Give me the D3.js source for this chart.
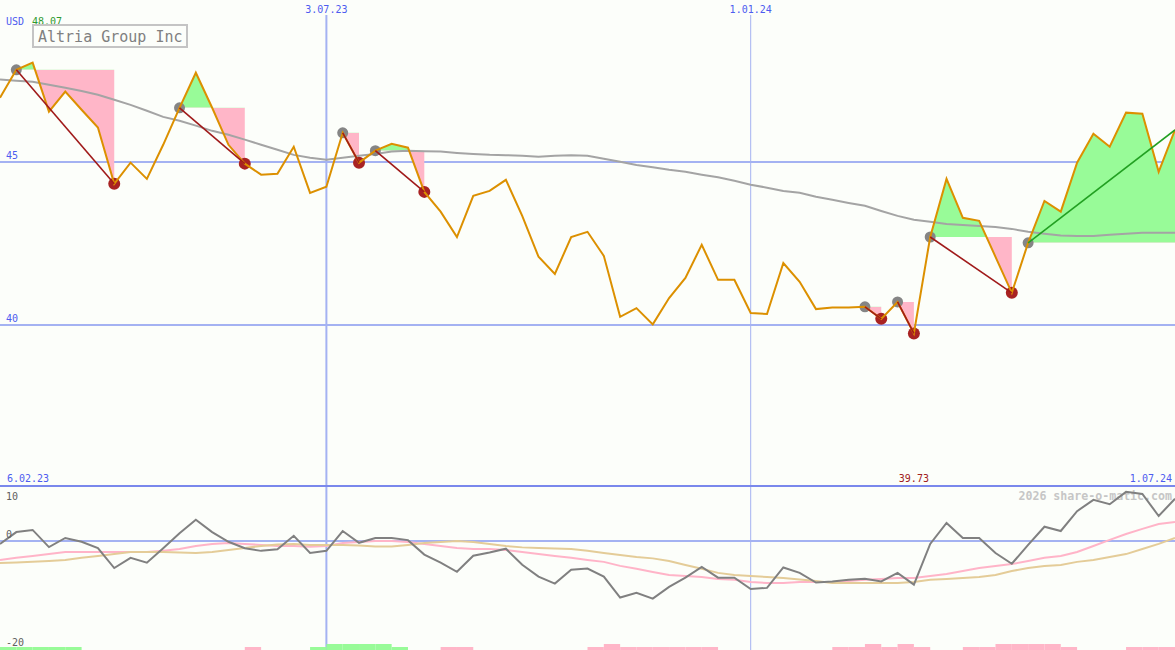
<!DOCTYPE html>
<html><head><meta charset="utf-8">
<script src="https://cdn.jsdelivr.net/npm/d3@7"></script>
<style>html,body{margin:0;padding:0;background:#fcfefa;overflow:hidden}</style>
</head><body>
<svg id="c" width="1175" height="650"></svg>
<script>
// ---------- data ----------
const startDate = new Date(2023, 1, 13);
const endDate = new Date(2024, 6, 1);
const title = "Altria Group Inc";
const currency = "USD";
const maxLabel = "48.07";
const minLabel = "39.73";
const startLabel = "6.02.23";
const endLabel = "1.07.24";
const watermark = "2026 share-o-matic.com";

const price = [46.99, 47.85, 48.07, 46.56, 47.18, 46.62, 46.07, 44.34, 44.99, 44.49,
  45.54, 46.68, 47.76, 46.68, 45.54, 44.96, 44.62, 44.65, 45.48, 44.06,
  44.25, 45.91, 44.99, 45.36, 45.57, 45.45, 44.09, 43.48, 42.70, 43.97,
  44.12, 44.46, 43.35, 42.09, 41.56, 42.70, 42.86, 42.12, 40.24, 40.51,
  40.01, 40.82, 41.44, 42.46, 41.38, 41.38, 40.36, 40.33, 41.90, 41.32,
  40.48, 40.53, 40.53, 40.55, 40.18, 40.70, 39.73, 42.70, 44.49, 43.29,
  43.20, 42.09, 40.98, 42.52, 43.81, 43.48, 44.99, 45.88, 45.48, 46.53,
  46.50, 44.71, 46.00];

const movingAvg = [47.55, 47.51, 47.48, 47.39, 47.30, 47.20, 47.08, 46.93, 46.77, 46.59,
  46.40, 46.28, 46.13, 45.97, 45.85, 45.70, 45.54, 45.39, 45.23, 45.14,
  45.08, 45.14, 45.20, 45.26, 45.33, 45.36, 45.34, 45.33, 45.29, 45.26,
  45.23, 45.22, 45.20, 45.17, 45.20, 45.22, 45.20, 45.11, 45.02, 44.92,
  44.85, 44.77, 44.71, 44.62, 44.54, 44.43, 44.31, 44.22, 44.12, 44.06,
  43.94, 43.85, 43.75, 43.66, 43.50, 43.35, 43.23, 43.17, 43.10, 43.07,
  43.04, 43.01, 42.95, 42.86, 42.80, 42.75, 42.73, 42.73, 42.77, 42.80,
  42.83, 42.83, 42.83];

const osc = [-0.6, 1.6, 2.0, -1.2, 0.5, -0.2, -1.4, -5.1, -3.2, -4.1,
  -1.4, 1.4, 3.9, 1.6, -0.2, -1.4, -1.9, -1.6, 0.9, -2.3,
  -1.9, 1.8, -0.4, 0.5, 0.5, 0.1, -2.6, -4.1, -5.8, -2.8,
  -2.2, -1.5, -4.5, -6.7, -8.0, -5.4, -5.2, -6.7, -10.6, -9.7,
  -10.8, -8.6, -6.9, -4.9, -6.9, -6.9, -9.0, -8.8, -5.0, -6.0,
  -7.8, -7.6, -7.3, -7.1, -7.6, -6.0, -8.2, -0.6, 3.3, 0.5,
  0.5, -2.3, -4.3, -0.8, 2.6, 1.8, 5.5, 7.6, 6.8, 9.1,
  8.7, 4.6, 7.8];

const oscPink = [-3.6, -3.2, -2.85, -2.5, -2.1, -2.1, -2.1, -2.1, -2.1, -2.1,
  -1.9, -1.55, -1.0, -0.6, -0.45, -0.6, -0.8, -1.0, -1.0, -1.15,
  -1.0, -0.45, -0.25, -0.05, -0.05, -0.25, -0.6, -1.0, -1.35, -1.55,
  -1.55, -1.75, -2.1, -2.5, -2.85, -3.2, -3.6, -3.95, -4.7, -5.25,
  -5.85, -6.4, -6.6, -6.75, -7.15, -7.3, -7.7, -7.9, -7.9, -7.7,
  -7.7, -7.7, -7.5, -7.3, -7.15, -6.95, -6.95, -6.6, -6.2, -5.65,
  -5.1, -4.7, -4.35, -3.8, -3.2, -2.85, -2.1, -1.0, 0.15, 1.25,
  2.2, 3.1, 3.5];

const oscTan = [-4.15, -4.05, -3.95, -3.8, -3.6, -3.2, -2.85, -2.5, -2.1, -2.1,
  -2.1, -2.2, -2.3, -2.1, -1.75, -1.35, -1.0, -0.7, -0.6, -0.8,
  -0.8, -0.8, -0.9, -1.1, -1.1, -0.8, -0.45, -0.25, -0.05, -0.25,
  -0.6, -1.0, -1.25, -1.35, -1.45, -1.55, -1.9, -2.3, -2.65, -3.05,
  -3.3, -3.8, -4.55, -5.25, -6.0, -6.4, -6.6, -6.75, -6.95, -7.25,
  -7.5, -7.9, -7.9, -7.9, -7.9, -7.9, -7.7, -7.3, -7.15, -6.95,
  -6.75, -6.4, -5.65, -5.1, -4.7, -4.55, -3.95, -3.6, -3.05, -2.5,
  -1.55, -0.6, 0.5];

// signal bars at the bottom: 1/2 green (small/tall), -1/-2 pink
const signalBars = [1, 1, 1, 1, 1, 0, 0, 0, 0, 0,
  0, 0, 0, 0, 0, -1, 0, 0, 0, 1,
  2, 2, 2, 2, 1, 0, 0, -1, -1, 0,
  0, 0, 0, 0, 0, 0, -1, -2, -1, -1,
  -1, -1, -1, -1, 0, 0, 0, 0, 0, 0,
  0, -1, -1, -2, -1, -2, -1, 0, 0, -1,
  -1, -2, -2, -2, -2, -1, 0, 0, 0, -1,
  -1, -1, 0];

// trend signals (week indexes)
const sigStart = [1, 11, 21, 23, 53, 55, 57, 63];
const sigEnd = [7, 15, 22, 26, 54, 56, 62, 72];
const sigOpen = [false, false, false, false, false, false, false, true];

const priceTicks = [45, 40];
const oscTicks = [10, 0, -20];
const dateTicks = [new Date(2023, 6, 3), new Date(2024, 0, 1)];
const dateTickLabels = ["3.07.23", "1.01.24"];
const dateTickWidths = [2, 1];

// ---------- drawing ----------
const W = 1175, H = 650;
const FONT = "DejaVu Sans Mono";
const dates = price.map((_, i) => d3.timeDay.offset(startDate, 7 * i));
const x = d3.scaleTime().domain([startDate, endDate]).range([0, W]);
const y = d3.scaleLinear().domain([35, 50]).range([487, 0]);
const y2 = d3.scaleLinear().domain([-20, 10]).range([648, 487]);

const svg = d3.select("#c");
svg.append("rect").attr("width", W).attr("height", H).attr("fill", "#fcfefa");
const defs = svg.append("defs");

const grid = "#a4b2f2";
// horizontal price grid
svg.selectAll(".pg").data(priceTicks).enter().append("line")
  .attr("x1", 0).attr("x2", W).attr("y1", d => Math.round(y(d))).attr("y2", d => Math.round(y(d)))
  .attr("stroke", grid).attr("stroke-width", 2);
// oscillator zero line
svg.append("line").attr("x1", 0).attr("x2", W).attr("y1", Math.round(y2(0))).attr("y2", Math.round(y2(0)))
  .attr("stroke", grid).attr("stroke-width", 2);
// vertical date lines
dateTicks.forEach((d, k) => {
  svg.append("line").attr("x1", x(d)).attr("x2", x(d)).attr("y1", 15).attr("y2", H)
    .attr("stroke", grid).attr("stroke-width", dateTickWidths[k]);
});

// signal fills
sigStart.forEach((s, k) => {
  const e = sigEnd[k];
  const ref = price[s];
  const idx = d3.range(s, e + 1);
  const area = d3.area().x(i => x(dates[i])).y0(y(ref)).y1(i => y(price[i]));
  const ca = "ca" + k, cb = "cb" + k;
  defs.append("clipPath").attr("id", ca).append("rect")
    .attr("x", 0).attr("y", 0).attr("width", W).attr("height", y(ref));
  defs.append("clipPath").attr("id", cb).append("rect")
    .attr("x", 0).attr("y", y(ref)).attr("width", W).attr("height", 487 - y(ref));
  svg.append("path").datum(idx).attr("d", area).attr("fill", "#98fb98").attr("clip-path", `url(#${ca})`);
  svg.append("path").datum(idx).attr("d", area).attr("fill", "#ffb6c8").attr("clip-path", `url(#${cb})`);
});

// moving average
svg.append("path").datum(movingAvg)
  .attr("d", d3.line().x((d, i) => x(dates[i])).y(d => y(d)))
  .attr("fill", "none").attr("stroke", "#a4a4a4").attr("stroke-width", 2);

// signal dots
sigStart.forEach((s, k) => {
  svg.append("circle").attr("cx", x(dates[s])).attr("cy", y(price[s])).attr("r", 5.5).attr("fill", "#858585");
  if (!sigOpen[k]) {
    const e = sigEnd[k];
    svg.append("circle").attr("cx", x(dates[e])).attr("cy", y(price[e])).attr("r", 6).attr("fill", "#a82222");
  }
});

// price line
svg.append("path").datum(price)
  .attr("d", d3.line().x((d, i) => x(dates[i])).y(d => y(d)))
  .attr("fill", "none").attr("stroke", "#dc9000").attr("stroke-width", 2).attr("stroke-linejoin", "miter");

// trend lines
sigStart.forEach((s, k) => {
  const e = sigEnd[k];
  svg.append("line").attr("x1", x(dates[s])).attr("y1", y(price[s]))
    .attr("x2", x(dates[e])).attr("y2", y(price[e]))
    .attr("stroke", sigOpen[k] ? "#22a022" : "#a01a1a").attr("stroke-width", 1.6);
});

// separator
svg.append("line").attr("x1", 0).attr("x2", W).attr("y1", 486).attr("y2", 486)
  .attr("stroke", "#7a88ec").attr("stroke-width", 2.2);

// watermark
svg.append("text").attr("x", 1172).attr("y", 500).attr("text-anchor", "end")
  .attr("font-family", FONT).attr("font-size", 11.6).attr("font-weight", "bold")
  .attr("fill", "#c6c6c6").text(watermark);

// oscillator lines
const l2 = d3.line().x((d, i) => x(dates[i])).y(d => y2(d));
svg.append("path").datum(oscPink).attr("d", l2).attr("fill", "none").attr("stroke", "#ffb4c8").attr("stroke-width", 2);
svg.append("path").datum(oscTan).attr("d", l2).attr("fill", "none").attr("stroke", "#e4cc98").attr("stroke-width", 2);
svg.append("path").datum(osc).attr("d", l2).attr("fill", "none").attr("stroke", "#808080").attr("stroke-width", 2);

// signal bars
signalBars.forEach((v, i) => {
  if (!v || i >= dates.length - 1) return;
  const h = Math.abs(v) === 2 ? 6 : 3;
  svg.append("rect").attr("x", x(dates[i])).attr("width", x(dates[i + 1]) - x(dates[i]))
    .attr("y", H - h).attr("height", h).attr("fill", v > 0 ? "#98fb98" : "#ffb6c8");
});

// labels
const blue = "#4d5cf0";
function txt(t, xx, yy, fill, anchor, size) {
  return svg.append("text").attr("x", xx).attr("y", yy).attr("fill", fill)
    .attr("text-anchor", anchor || "start").attr("font-family", FONT)
    .attr("font-size", size || 10).text(t);
}
txt(currency, 6, 25, blue);
txt(maxLabel, 32, 25, "#2e9a2e");
dateTicks.forEach((d, k) => txt(dateTickLabels[k], x(d), 13, blue, "middle"));
priceTicks.forEach(p => txt(String(p), 6, Math.round(y(p)) - 3, blue));
txt(startLabel, 7, 482, blue);
const minIdx = d3.minIndex(price);
txt(minLabel, x(dates[minIdx]), 482, "#a02020", "middle");
txt(endLabel, 1172, 482, blue, "end");
txt(String(oscTicks[0]), 6, Math.round(y2(oscTicks[0])) + 13, "#606060");
txt(String(oscTicks[1]), 6, Math.round(y2(oscTicks[1])) - 3, "#606060");
txt(String(oscTicks[2]), 6, Math.round(y2(oscTicks[2])) - 2, "#606060");

// title box
svg.append("rect").attr("x", 33).attr("y", 25).attr("width", 154).attr("height", 22)
  .attr("fill", "#fcfefa").attr("stroke", "#c4c4c4").attr("stroke-width", 2);
txt(title, 38, 42, "#808080", "start", 15);
</script>
</body></html>
